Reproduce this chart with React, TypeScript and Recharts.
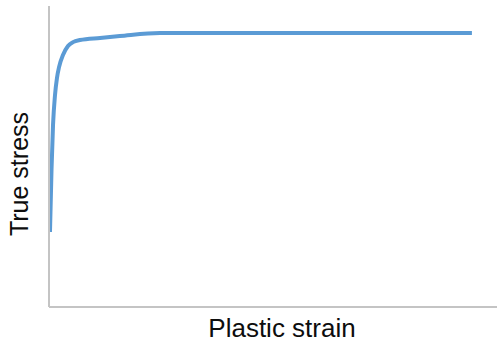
import { LineChart, Line, XAxis, YAxis } from 'recharts'

// values (arbitrary units)
const strain = [0.0011, 0.0028, 0.0045, 0.0067, 0.0089, 0.0112, 0.0156, 0.0212, 0.0268, 0.0346, 0.057, 0.079, 0.124, 0.2, 0.3, 0.4, 0.472]
const stress = [249, 455, 605, 704, 761, 797, 837, 867, 880, 887, 894, 900, 910, 910, 910, 910, 910]

const data = strain.map((s, i) => ({ strain: s, stress: stress[i] }))

const AXIS = '#c4c4c4'
const BLUE = '#5b9bd5'
const FONT = '"Liberation Sans", Arial, sans-serif'

const XLabel = () => (
  <text x={282} y={337} textAnchor="middle" fontFamily={FONT} fontSize={26} fill="#0d0d0d">Plastic strain</text>
)
const YLabel = () => (
  <text x={28} y={174} transform="rotate(-90 28 174)" textAnchor="middle" fontFamily={FONT}
    fontSize={25} fill="#0d0d0d">True stress</text>
)

export default function App() {
  return (
    <div style={{ position: 'absolute', left: 0, top: 0, width: 498, height: 343, background: '#fff' }}>
      <LineChart width={498} height={343} data={data} margin={{ top: 6, right: 1, left: 48, bottom: 35 }}>
        <XAxis type="number" dataKey="strain" domain={[0, 0.5]} tick={false} tickLine={false}
          height={1} axisLine={{ stroke: AXIS, strokeWidth: 2 }} label={<XLabel />} />
        <YAxis type="number" domain={[0, 1000]} tick={false} tickLine={false} width={1}
          axisLine={{ stroke: AXIS, strokeWidth: 2 }} label={<YLabel />} />
        <Line type="monotone" dataKey="stress" stroke={BLUE} strokeWidth={4} dot={false}
          isAnimationActive={false} />
      </LineChart>
    </div>
  )
}
